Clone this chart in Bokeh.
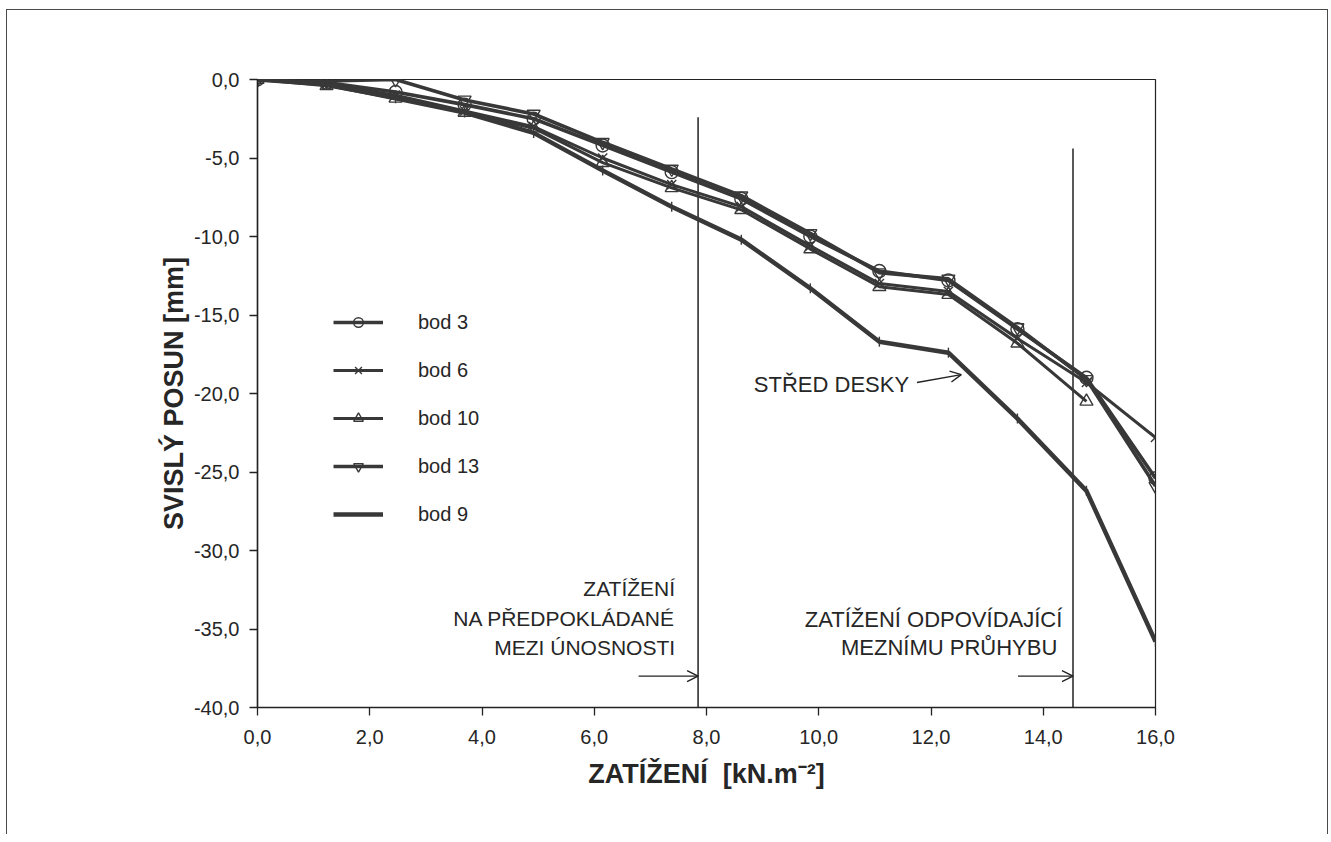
from bokeh.plotting import figure
from bokeh.models import (Legend, LegendItem, Arrow, OpenHead, CustomJSTickFormatter,
                          FixedTicker, Range1d)
from bokeh.core.properties import value
from bokeh.embed import file_html
from bokeh.resources import INLINE

# ---------------- data ----------------
load = [0.0, 1.23, 2.46, 3.69, 4.92, 6.15, 7.38, 8.62, 9.85, 11.08, 12.31, 13.54, 14.77, 16.0]
bod3 = [0.0, -0.2, -0.8, -1.6, -2.5, -4.2, -5.9, -7.6, -10.0, -12.2, -12.8, -15.9, -19.0, -25.4]
bod6 = [0.0, -0.3, -1.0, -2.0, -3.0, -5.0, -6.7, -8.1, -10.6, -13.0, -13.5, -16.5, -19.3, -22.8]
bod10 = [0.0, -0.4, -1.2, -2.1, -3.1, -5.3, -6.9, -8.3, -10.8, -13.2, -13.7, -16.8, -20.5]
bod13 = [0.0, -0.1, 0.0, -1.3, -2.2, -4.0, -5.7, -7.4, -9.8, -12.3, -12.7, -15.8, -19.1, -25.9]
bod9 = [0.0, -0.3, -1.2, -2.1, -3.4, -5.8, -8.1, -10.2, -13.3, -16.7, -17.4, -21.6, -26.2, -35.8]

x_ticks = [0, 2, 4, 6, 8, 10, 12, 14, 16]
y_ticks = [-40, -35, -30, -25, -20, -15, -10, -5, 0]

# reference lines (load levels)
vline_x = [7.85, 14.53]
vline_top = [-2.4, -4.4]

# annotation texts
left_note = ["ZATÍŽENÍ", "NA PŘEDPOKLÁDANÉ", "MEZI ÚNOSNOSTI"]
left_note_x = 7.44
left_note_y = [-32.4, -34.3, -36.2]
right_note = ["ZATÍŽENÍ ODPOVÍDAJÍCÍ", "MEZNÍMU PRŮHYBU"]
right_note_x = [14.34, 14.25]
right_note_y = [-34.4, -36.2]
mid_note = "STŘED DESKY"
mid_note_xy = (11.61, -19.4)
arrows = [  # x_start, y_start, x_end, y_end
    (6.79, -38.0, 7.85, -38.0),
    (13.55, -38.0, 14.53, -38.0),
    (11.75, -19.3, 12.54, -18.8),
]

FONT = "Liberation Sans"
INK = "#262626"
LINE = "#383838"

p = figure(width=1320, height=826, output_backend="svg", toolbar_location=None,
           x_range=Range1d(0, 16), y_range=Range1d(-40, 0),
           frame_width=898, frame_height=628,
           min_border_left=250, min_border_right=172, min_border_top=69, min_border_bottom=127)
p.styles = {"border": "1.5px solid #4a4a4a", "border-bottom": "none",
            "margin-left": "6px", "margin-top": "9px"}
p.grid.visible = False
p.outline_line_color = "#222222"
p.outline_line_width = 1.2
p.background_fill_color = "white"
p.border_fill_color = "white"

fmt = CustomJSTickFormatter(code="return tick.toFixed(1).replace('.', ',');")
for ax, ticks in ((p.xaxis[0], x_ticks), (p.yaxis[0], y_ticks)):
    ax.ticker = FixedTicker(ticks=ticks)
    ax.formatter = fmt
    ax.major_tick_out = 8
    ax.major_tick_in = 0
    ax.minor_tick_line_color = None
    ax.axis_line_color = "#222222"
    ax.axis_line_width = 1.5
    ax.major_tick_line_color = "#222222"
    ax.major_tick_line_width = 1.3
    ax.major_label_text_font = FONT
    ax.major_label_text_font_size = "20px"
    ax.major_label_text_color = INK
    ax.axis_label_text_font = FONT
    ax.axis_label_text_font_style = "bold"
    ax.axis_label_text_font_size = "27px"
    ax.axis_label_text_color = INK

p.xaxis.axis_label = "ZATÍŽENÍ\u00a0\u00a0[kN.m⁻²]"
p.yaxis.axis_label = "SVISLÝ POSUN [mm]"
p.xaxis.major_label_standoff = 14
p.yaxis.major_label_standoff = 10
p.xaxis.axis_label_standoff = 12
p.yaxis.axis_label_standoff = 2

# vertical reference lines
p.segment(x0=vline_x, y0=[-40, -40], x1=vline_x, y1=vline_top, line_color="#222222", line_width=1.5)

# series
series = [
    ("bod 3", bod3, "circle", 3.6),
    ("bod 6", bod6, "x", 3.0),
    ("bod 10", bod10, "triangle", 3.0),
    ("bod 13", bod13, "inverted_triangle", 3.6),
]
items = []
for name, ys, marker, lw in series:
    xs = load[:len(ys)]
    r1 = p.line(xs, ys, line_color=LINE, line_width=lw)
    r2 = p.scatter(xs, ys, marker=marker, size=13, line_color=LINE, line_width=1.4,
                   fill_color="white", fill_alpha=0.0)
    items.append(LegendItem(label=name, renderers=[r1, r2]))

r1 = p.line(load, bod9, line_color=LINE, line_width=4.5)
r2 = p.scatter(load, bod9, marker="dash", angle=1.5708, size=10, line_color=LINE, line_width=1.4)
items.append(LegendItem(label="bod 9", renderers=[r1, r2]))

legend = Legend(items=items, location=(76, 181), padding=0, margin=0,
                border_line_color=None, background_fill_alpha=0,
                glyph_width=50, glyph_height=24, label_height=24, spacing=24,
                label_standoff=35, label_text_font=FONT, label_text_font_size="20px",
                label_text_color=INK)
p.add_layout(legend, "center")

# annotation texts
p.text(x=[left_note_x] * len(left_note), y=left_note_y, text=left_note,
       text_align="right", text_baseline="middle", text_font=value(FONT),
       text_font_size="21px", text_color=INK)
p.text(x=right_note_x, y=right_note_y, text=right_note,
       text_align="right", text_baseline="middle", text_font=value(FONT),
       text_font_size="22px", text_color=INK)
p.text(x=[mid_note_xy[0]], y=[mid_note_xy[1]], text=[mid_note],
       text_align="right", text_baseline="middle", text_font=value(FONT),
       text_font_size="22px", text_color=INK)

for xs0, ys0, xe, ye in arrows:
    p.add_layout(Arrow(end=OpenHead(size=11, line_width=1.4, line_color="#222222"),
                       x_start=xs0, y_start=ys0, x_end=xe, y_end=ye,
                       line_width=1.4, line_color="#222222"))

open("out.html", "w").write(file_html(p, INLINE))
